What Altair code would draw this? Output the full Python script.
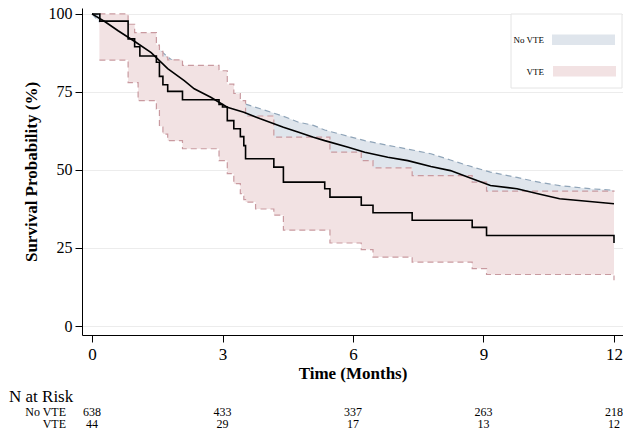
import altair as alt
import pandas as pd

# ---------------- data ----------------
months = [0, 3, 6, 9, 12]
risk_novte = [638, 433, 337, 263, 218]
risk_vte = [44, 29, 17, 13, 12]

# No VTE Kaplan-Meier estimate and 95% CI
nv_time = [0, 0.3, 0.6, 1.0, 1.36, 1.74, 2.12, 2.35, 2.73, 3.11, 3.49, 3.87, 4.4, 4.75, 5.09,
           5.35, 5.89, 6.27, 6.8, 7.26, 7.79, 8.24, 8.62, 9.16, 9.77, 10.3, 10.75, 11.44, 12]
nv_surv = [100, 97.5, 94.6, 91.0, 87.6, 82.5, 78.6, 76.0, 73.3, 70.1, 68.5, 66.4, 63.7, 62.1, 60.5,
           59.4, 57.3, 55.7, 54.1, 53.0, 51.1, 49.8, 47.8, 45.0, 44.0, 42.2, 40.8, 39.9, 39.2]
nv_upper = [100, 99.5, 97.5, 94.2, 91.0, 86.2, 82.4, 79.9, 77.3, 74.2, 71.3, 69.6, 67.2, 65.3, 64.3,
            62.8, 60.8, 59.4, 57.9, 56.7, 55.2, 53.2, 51.5, 49.3, 47.6, 46.0, 45.0, 44.0, 43.5]
nv_lower = [100, 95.5, 91.7, 87.5, 83.8, 78.5, 74.3, 71.6, 68.8, 65.4, 63.6, 61.3, 58.4, 56.7, 55.0,
            53.8, 51.7, 50.1, 48.5, 47.3, 45.4, 44.0, 42.0, 39.3, 38.2, 36.4, 35.0, 34.0, 33.3]

# VTE Kaplan-Meier estimate (step function)
vte_time = [0, 0.18, 0.83, 0.98, 1.10, 1.48, 1.55, 1.63, 1.74, 2.08, 2.92, 3.00, 3.11, 3.26,
            3.41, 3.49, 3.53, 4.18, 4.40, 5.35, 5.47, 6.19, 6.46, 7.36, 8.74, 9.07, 12.0]
vte_surv = [100, 97.7, 92.0, 89.5, 86.5, 84.5, 80.0, 77.3, 75.2, 72.5, 71.0, 70.2, 65.8, 63.2,
            60.7, 57.8, 53.6, 50.9, 46.1, 44.0, 41.3, 38.7, 36.3, 33.9, 31.6, 29.0, 26.6]
# VTE 95% CI (step function)
vte_ci_time = [0.17, 0.83, 0.98, 1.06, 1.48, 1.55, 1.63, 1.74, 2.08, 2.92, 3.11, 3.26, 3.41,
               3.49, 3.53, 3.76, 4.18, 4.40, 5.47, 6.19, 6.46, 7.36, 8.74, 9.07, 12.0]
vte_upper = [100, 96.7, 94.0, 94.0, 90.0, 88.0, 86.2, 85.3, 83.5, 81.8, 77.5, 74.5, 72.2,
             72.2, 67.3, 67.3, 60.5, 60.5, 55.7, 53.0, 50.7, 48.2, 46.1, 43.2, 43.0]
vte_lower = [85.2, 78.0, 78.0, 72.2, 69.5, 64.0, 61.5, 59.4, 56.8, 53.0, 48.8, 45.6, 42.4,
             40.5, 39.7, 37.5, 35.5, 30.7, 26.6, 24.5, 22.1, 20.5, 18.4, 16.5, 14.7]

groups = ["No VTE", "VTE"]

# ---------------- styling ----------------
FONT = "Liberation Serif"
BLUE_FILL = "#dfe5ec"
BLUE_LINE = "#8fa4b8"
PINK_FILL = "#f2e2e3"
PINK_LINE = "#c99aa0"

nv_df = pd.DataFrame({"t": nv_time, "s": nv_surv, "hi": nv_upper, "lo": nv_lower})
vte_df = pd.DataFrame({"t": vte_time, "s": vte_surv})
vte_ci_df = pd.DataFrame({"t": vte_ci_time, "hi": vte_upper, "lo": vte_lower})
risk_nv_df = pd.DataFrame({"t": months, "n": risk_novte})
risk_vte_df = pd.DataFrame({"t": months, "n": risk_vte})

xscale = alt.Scale(domain=[-0.23, 12.207], nice=False, zero=False)
yscale = alt.Scale(domain=[-2.88, 101.9], nice=False, zero=False)

xaxis = alt.Axis(values=months, title="Time (Months)", format="d", grid=False,
                 labelFont=FONT, labelFontSize=17, labelColor="black", labelPadding=4,
                 tickColor="black", tickSize=7, domainColor="black",
                 titleFont=FONT, titleFontSize=17, titleFontWeight="bold", titleColor="black",
                 titlePadding=3)
yaxis = alt.Axis(values=[0, 25, 50, 75, 100], title="Survival Probability (%)", format="d",
                 grid=True, gridColor="#ececec",
                 labelFont=FONT, labelFontSize=16, labelColor="black", labelPadding=3,
                 tickColor="black", tickSize=7, domainColor="black",
                 titleFont=FONT, titleFontSize=17, titleFontWeight="bold", titleColor="black",
                 titlePadding=8)

X = alt.X("t:Q", scale=xscale, axis=xaxis)


def Yf(field):
    return alt.Y(f"{field}:Q", scale=yscale, axis=yaxis)


# No VTE band + dashed bounds
nv_band = alt.Chart(nv_df).mark_area(color=BLUE_FILL, opacity=1).encode(x=X, y=Yf("lo"), y2="hi")
nv_hi = alt.Chart(nv_df).mark_line(color=BLUE_LINE, strokeDash=[6, 4], strokeWidth=1.2).encode(x=X, y=Yf("hi"))
nv_lo = alt.Chart(nv_df).mark_line(color=BLUE_LINE, strokeDash=[6, 4], strokeWidth=1.2).encode(x=X, y=Yf("lo"))

# VTE band + dashed bounds
vte_band = alt.Chart(vte_ci_df).mark_area(color=PINK_FILL, opacity=1, interpolate="step-after").encode(
    x=X, y=Yf("lo"), y2="hi")
vte_hi = alt.Chart(vte_ci_df).mark_line(color=PINK_LINE, strokeDash=[6, 4], strokeWidth=1.2,
                                        interpolate="step-after").encode(x=X, y=Yf("hi"))
vte_lo = alt.Chart(vte_ci_df).mark_line(color=PINK_LINE, strokeDash=[6, 4], strokeWidth=1.2,
                                        interpolate="step-after").encode(x=X, y=Yf("lo"))

# survival curves
nv_line = alt.Chart(nv_df).mark_line(color="black", strokeWidth=1.6).encode(x=X, y=Yf("s"))
vte_line = alt.Chart(vte_df).mark_line(color="black", strokeWidth=1.6, interpolate="step-after").encode(
    x=X, y=Yf("s"))

# number at risk table
ROW1_Y, ROW2_Y = 408, 420
RFS = 12
risk_nv = alt.Chart(risk_nv_df).mark_text(font=FONT, fontSize=RFS, align="center", baseline="alphabetic",
                                          color="black").encode(x=X, y=alt.value(ROW1_Y), text="n:Q")
risk_vte = alt.Chart(risk_vte_df).mark_text(font=FONT, fontSize=RFS, align="center", baseline="alphabetic",
                                            color="black").encode(x=X, y=alt.value(ROW2_Y), text="n:Q")
lab_df = pd.DataFrame({"lab": ["N at Risk"]})
risk_title = alt.Chart(lab_df).mark_text(font=FONT, fontSize=17, align="left", baseline="alphabetic",
                                         color="black").encode(x=alt.value(-73), y=alt.value(394), text="lab:N")
row1 = alt.Chart(pd.DataFrame({"lab": [groups[0]]})).mark_text(
    font=FONT, fontSize=RFS, align="right", baseline="alphabetic", color="black").encode(
    x=alt.value(-16), y=alt.value(ROW1_Y), text="lab:N")
row2 = alt.Chart(pd.DataFrame({"lab": [groups[1]]})).mark_text(
    font=FONT, fontSize=RFS, align="right", baseline="alphabetic", color="black").encode(
    x=alt.value(-16), y=alt.value(ROW2_Y), text="lab:N")

# legend box
leg_box = alt.Chart(lab_df).mark_rect(fill="white", stroke="#e4e4e4", strokeWidth=1).encode(
    x=alt.value(429), x2=alt.value(540), y=alt.value(6), y2=alt.value(80))
leg_sw1 = alt.Chart(lab_df).mark_rect(fill=BLUE_FILL).encode(
    x=alt.value(470), x2=alt.value(533), y=alt.value(26.5), y2=alt.value(37))
leg_sw2 = alt.Chart(lab_df).mark_rect(fill=PINK_FILL).encode(
    x=alt.value(471), x2=alt.value(534), y=alt.value(58), y2=alt.value(68.5))
leg_t1 = alt.Chart(pd.DataFrame({"lab": [groups[0]]})).mark_text(
    font=FONT, fontSize=9, align="right", baseline="middle", color="black").encode(
    x=alt.value(462), y=alt.value(32), text="lab:N")
leg_t2 = alt.Chart(pd.DataFrame({"lab": [groups[1]]})).mark_text(
    font=FONT, fontSize=9, align="right", baseline="middle", color="black").encode(
    x=alt.value(462), y=alt.value(63.5), text="lab:N")

chart = alt.layer(
    nv_band, nv_hi, nv_lo, vte_band, vte_hi, vte_lo, nv_line, vte_line,
    risk_nv, risk_vte, risk_title, row1, row2,
    leg_box, leg_sw1, leg_sw2, leg_t1, leg_t2,
).properties(
    width=541, height=327,
    autosize=alt.AutoSizeParams(type="none"),
    padding={"left": 74, "top": 0, "right": 0, "bottom": 97},
    background="white",
).configure_view(stroke=None)

chart.save("out.html", embed_options={"renderer": "svg", "actions": False})
